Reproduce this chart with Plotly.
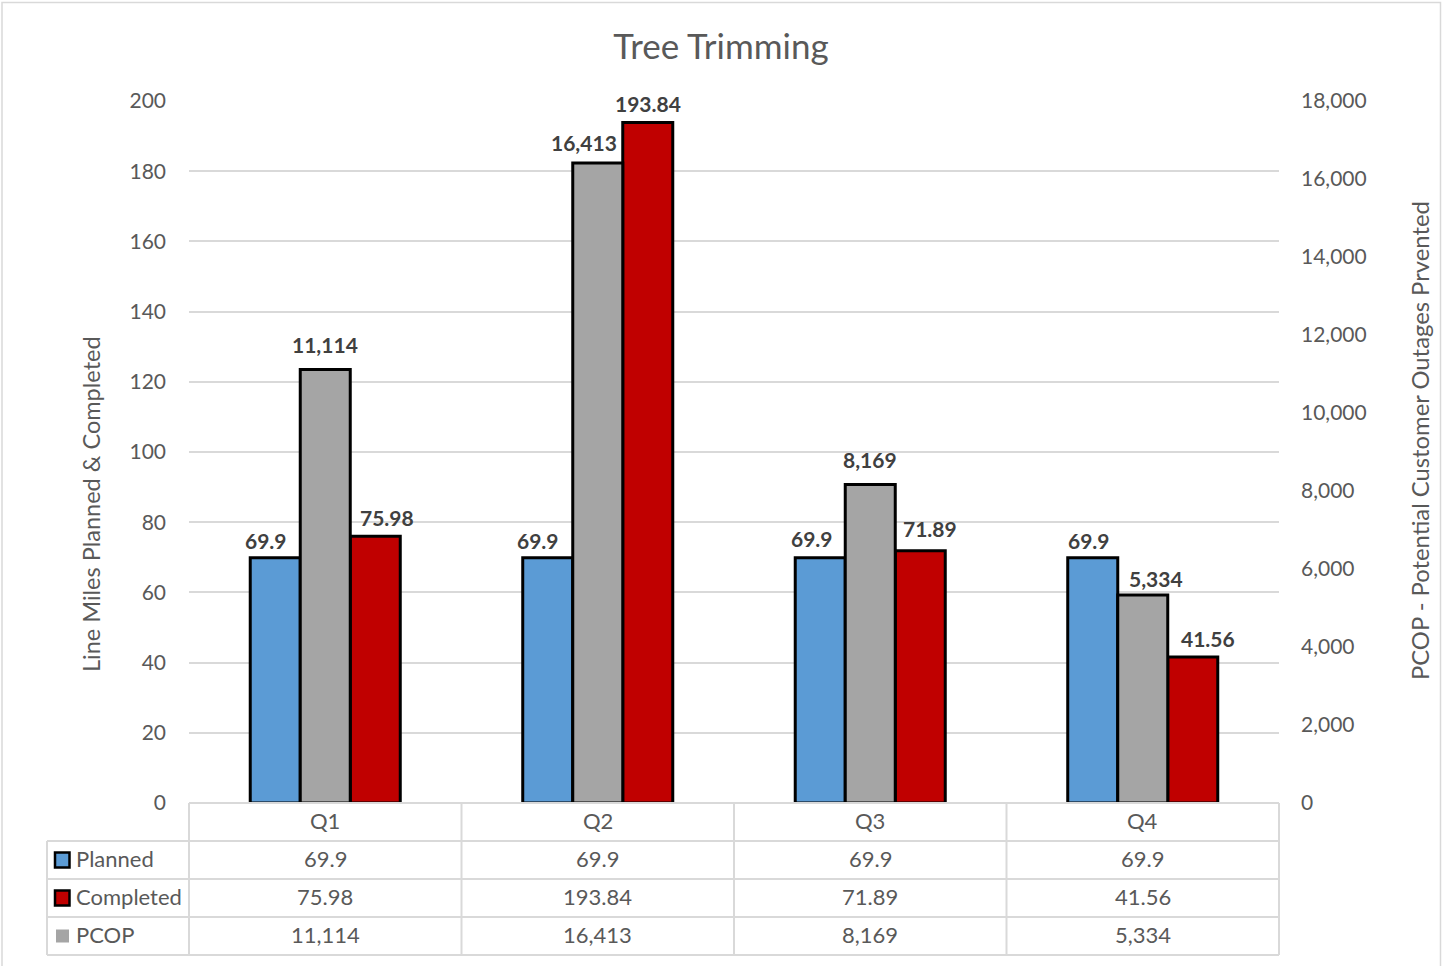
import plotly.graph_objects as go

# ---------------- data ----------------
quarters = ["Q1", "Q2", "Q3", "Q4"]
planned = [69.9, 69.9, 69.9, 69.9]
completed = [75.98, 193.84, 71.89, 41.56]
pcop = [11114, 16413, 8169, 5334]
planned_text = ["69.9", "69.9", "69.9", "69.9"]
completed_text = ["75.98", "193.84", "71.89", "41.56"]
pcop_text = ["11,114", "16,413", "8,169", "5,334"]
left_ticks = [0, 20, 40, 60, 80, 100, 120, 140, 160, 180, 200]
right_ticks = [0, 2000, 4000, 6000, 8000, 10000, 12000, 14000, 16000, 18000]

# ---------------- layout constants ----------------
W, H = 1442, 966
L, R, T, B = 189, 1279, 101, 803
FONT = "Lato, 'Open Sans', sans-serif"
GRID = "#D9D9D9"
TXT = "#595959"
LBL = "#404040"
BLUE, GRAY, RED = "#5B9BD5", "#A5A5A5", "#C00000"

def px(x):
    return (x - L) / (R - L)

def py(y):
    return (B - y) / (B - T)

BW = 0.1835
series = [
    ("Planned", planned, planned_text, BLUE, "y"),
    ("PCOP", pcop, pcop_text, GRAY, "y2"),
    ("Completed", completed, completed_text, RED, "y"),
]
offsets = [-1.5 * BW, -0.5 * BW, 0.5 * BW]
# label nudges (px) per series / quarter
xshift = [[-9, -10, -8, -4], [0, -14, 0, 13], [12, 0, 10, 15]]
yshift = [[17, 17, 19, 17], [25, 20, 25, 16], [19, 19, 22, 19]]

fig = go.Figure()
annotations = []
for k, (name, vals, txt, col, yax) in enumerate(series):
    fig.add_trace(go.Bar(
        name=name, x=quarters, y=vals, yaxis=yax,
        width=BW, offset=offsets[k],
        marker=dict(color=col, line=dict(color="black", width=3)),
        showlegend=False, hoverinfo="x+y",
    ))
    for i, (v, t) in enumerate(zip(vals, txt)):
        annotations.append(dict(
            x=i + offsets[k] + BW / 2, y=v, xref="x", yref=yax,
            text=t, showarrow=False, xanchor="center", yanchor="middle",
            xshift=xshift[k][i], yshift=yshift[k][i],
            font=dict(family=FONT, size=21, color=LBL, weight="bold"),
        ))

shapes = []
# outer chart border
shapes.append(dict(type="rect", xref="paper", yref="paper",
                   x0=px(2), x1=px(1440.5), y0=py(975), y1=py(2.5),
                   line=dict(color=GRID, width=1.5), layer="below"))
# data table lines
row_lines = [803, 841, 879, 917, 955]
col_x = [L + (R - L) * j / 4 for j in range(5)]
tab_left = 47
for j, yl in enumerate(row_lines):
    shapes.append(dict(type="line", xref="paper", yref="paper",
                       x0=px(L if j == 0 else tab_left), x1=px(R),
                       y0=py(yl), y1=py(yl), line=dict(color=GRID, width=2)))
for xc in col_x:
    shapes.append(dict(type="line", xref="paper", yref="paper",
                       x0=px(xc), x1=px(xc), y0=py(803), y1=py(955),
                       line=dict(color=GRID, width=2)))
shapes.append(dict(type="line", xref="paper", yref="paper",
                   x0=px(tab_left), x1=px(tab_left), y0=py(841), y1=py(955),
                   line=dict(color=GRID, width=2)))

# table text
row_centers = [820.5, 858.5, 896.5, 934.5]
for j, q in enumerate(quarters):
    annotations.append(dict(x=(j + 0.5) / 4, y=py(row_centers[0]), xref="paper", yref="paper",
                            text=q, showarrow=False, xanchor="center", yanchor="middle",
                            font=dict(family=FONT, size=22, color=TXT)))
table_rows = [("Planned", planned_text, BLUE, True),
              ("Completed", completed_text, RED, True),
              ("PCOP", pcop_text, GRAY, False)]
for r, (name, txt, col, outline) in enumerate(table_rows):
    yc = row_centers[r + 1]
    ys = yc + 1.5
    annotations.append(dict(x=px(74), y=py(yc), xref="paper", yref="paper",
                            text=name, showarrow=False, xanchor="left", yanchor="middle",
                            font=dict(family=FONT, size=22, color=TXT)))
    if outline:
        shapes.append(dict(type="rect", xref="paper", yref="paper",
                           x0=px(55), x1=px(69.5), y0=py(ys + 7.5), y1=py(ys - 7.5),
                           fillcolor=col, line=dict(color="black", width=2.5)))
    else:
        shapes.append(dict(type="rect", xref="paper", yref="paper",
                           x0=px(56), x1=px(69), y0=py(ys + 6.5), y1=py(ys - 6.5),
                           fillcolor=col, line=dict(width=0)))
    for j, t in enumerate(txt):
        annotations.append(dict(x=(j + 0.5) / 4, y=py(yc), xref="paper", yref="paper",
                                text=t, showarrow=False, xanchor="center", yanchor="middle",
                                font=dict(family=FONT, size=22, color=TXT)))

# axis titles
annotations.append(dict(x=px(91), y=py(504), xref="paper", yref="paper",
                        text="Line Miles Planned &amp; Completed", textangle=-90,
                        showarrow=False, xanchor="center", yanchor="middle",
                        font=dict(family=FONT, size=23.5, color=TXT)))
annotations.append(dict(x=px(1420), y=py(441), xref="paper", yref="paper",
                        text="PCOP - Potential Customer Outages Prvented", textangle=-90,
                        showarrow=False, xanchor="center", yanchor="middle",
                        font=dict(family=FONT, size=23.8, color=TXT)))

fig.update_layout(
    width=W, height=H,
    margin=dict(l=L, r=W - R, t=T, b=H - B, autoexpand=False),
    paper_bgcolor="white", plot_bgcolor="white",
    barmode="overlay",
    title=dict(text="Tree Trimming", x=0.5, xanchor="center", y=1 - 47 / H, yanchor="middle",
               font=dict(family=FONT, size=35, color=TXT)),
    xaxis=dict(type="category", range=[-0.5, 3.5], showticklabels=False, showgrid=False,
               zeroline=False, showline=False, ticks=""),
    yaxis=dict(range=[0, 200], tickvals=left_ticks, showgrid=True, gridcolor=GRID, gridwidth=1.5,
               zeroline=False, showline=False, ticks="", ticklabelstandoff=22,
               tickfont=dict(family=FONT, size=21, color=TXT)),
    yaxis2=dict(range=[0, 18000], tickvals=right_ticks, tickformat=",d", overlaying="y", side="right",
                showgrid=False, zeroline=False, showline=False, ticks="", ticklabelstandoff=21,
                tickfont=dict(family=FONT, size=21, color=TXT)),
    shapes=shapes,
    annotations=annotations,
)

fig.write_html("out.html")
